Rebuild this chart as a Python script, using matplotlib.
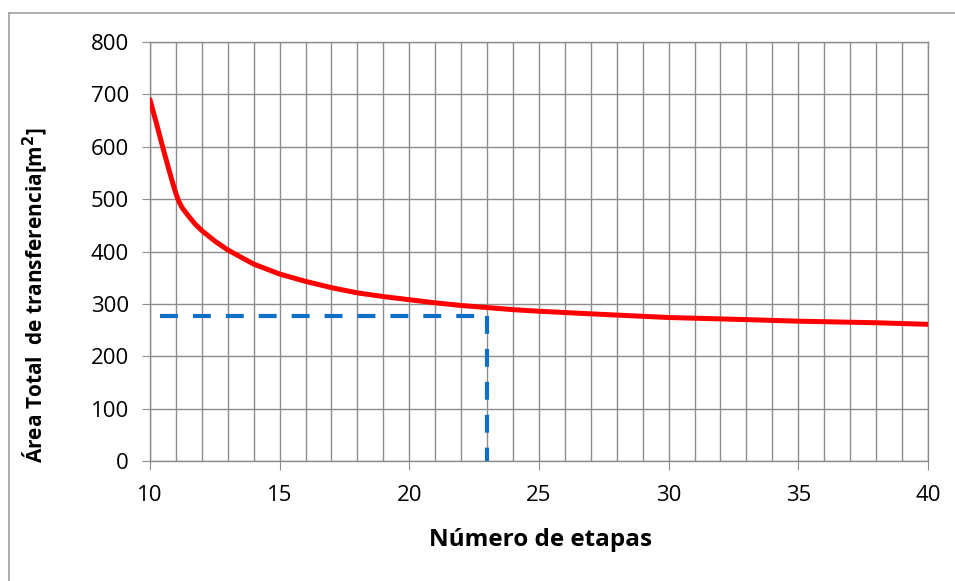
import matplotlib.pyplot as plt
from matplotlib.lines import Line2D
from matplotlib.ticker import MultipleLocator

# curve
etapas = [10, 10.25, 10.5, 10.75, 10.9, 11, 11.1, 11.25, 11.5, 11.75, 12, 12.5, 13, 14,
          15, 16, 17, 18, 19, 20, 21, 22, 23, 24, 25, 27, 30, 33, 35, 38, 40]
area = [690, 645, 598, 553, 527, 511, 497, 483, 467, 452, 440, 420, 403, 376,
        357, 343, 331, 321, 314, 308, 302, 297, 293, 289, 286, 281, 274, 270, 267, 264, 261]

# chosen design point (dashed guide)
n_opt = 23
area_opt = 277
x_guide_start = 10.4

plt.rcParams['font.family'] = ['Open Sans', 'DejaVu Sans']

fig = plt.figure(figsize=(9.55, 5.81), dpi=100)
ax = fig.add_axes([0.157, 0.2065, 0.8147, 0.7212])

grid_col = '#8c8c8c'
blue = '#0f6fc6'
ax.plot(etapas, area, color='#ff0000', linewidth=3.6, zorder=4,
        solid_capstyle='round', solid_joinstyle='round')
ax.plot([x_guide_start, n_opt], [area_opt, area_opt], color=blue, linewidth=3,
        linestyle=(0, (4.3, 3.6)), zorder=3)
ax.plot([n_opt, n_opt], [area_opt, 0], color=blue, linewidth=3,
        linestyle=(0, (4.3, 3.6)), zorder=3)

ax.set_xlim(10, 40)
ax.set_ylim(0, 800)
ax.xaxis.set_major_locator(MultipleLocator(5))
ax.xaxis.set_minor_locator(MultipleLocator(1))
ax.yaxis.set_major_locator(MultipleLocator(100))

ax.grid(True, which='both', color=grid_col, linewidth=1.0, zorder=1)
ax.set_axisbelow(True)
for s in ax.spines.values():
    s.set_color(grid_col)
    s.set_linewidth(1.0)

ax.tick_params(axis='x', which='major', length=6.5, color=grid_col, labelsize=16, pad=11)
ax.tick_params(axis='x', which='minor', length=0)
ax.tick_params(axis='y', which='major', length=6, color=grid_col, labelsize=16, pad=9)

fig.text(540 / 955, 1 - 540 / 581, 'Número de etapas', fontsize=17.5, fontweight='bold',
         ha='center', va='center')
fig.text(35 / 955, 1 - 295 / 581, 'Área Total  de transferencia[m$^\\mathbf{2}$]',
         fontsize=15, fontweight='bold', rotation=90, ha='center', va='center')

# outer frame (top and left edges visible)
fig.add_artist(Line2D([0.0094, 1.0], [0.9776, 0.9776], color='#a0a0a0', linewidth=1.2))
fig.add_artist(Line2D([0.0094, 0.0094], [0.0, 0.9776], color='#a0a0a0', linewidth=1.2))

fig.savefig('out.png', dpi=100)
